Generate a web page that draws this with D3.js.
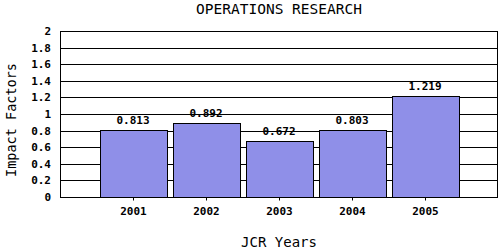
<!DOCTYPE html>
<html>
<head>
<meta charset="utf-8">
<script src="https://cdn.jsdelivr.net/npm/d3@7"></script>
<style>
  body { margin: 0; background: #fff; }
  text { font-family: "DejaVu Sans Mono", monospace; }
</style>
</head>
<body>
<div id="chart"></div>
<script>
var years = ["2001", "2002", "2003", "2004", "2005"];
var impactFactors = [0.813, 0.892, 0.672, 0.803, 1.219];
var yTicks = [0, 0.2, 0.4, 0.6, 0.8, 1, 1.2, 1.4, 1.6, 1.8, 2];
var title = "OPERATIONS RESEARCH";

var width = 500, height = 250;
var margin = { top: 31, right: 2, bottom: 53, left: 60 };
var plotW = width - margin.left - margin.right,
    plotH = height - margin.top - margin.bottom;
var midX = margin.left + plotW / 2;

var svg = d3.select("#chart").append("svg")
    .attr("width", width)
    .attr("height", height);

var g = svg.append("g")
    .attr("transform", "translate(" + margin.left + "," + margin.top + ")");

var x = d3.scalePoint().domain(years).range([0, plotW]).padding(1);
var y = d3.scaleLinear().domain([0, 2]).range([plotH, 0]);
var barW = 67;

// gridlines
g.append("g").selectAll("line")
    .data(yTicks)
    .enter().append("line")
    .attr("x1", 0).attr("x2", plotW)
    .attr("y1", function(d) { return Math.round(y(d)) + 0.5; })
    .attr("y2", function(d) { return Math.round(y(d)) + 0.5; })
    .attr("stroke", "#000");

// bars
g.append("g").selectAll("rect")
    .data(impactFactors)
    .enter().append("rect")
    .attr("x", function(d, i) { return Math.round(x(years[i]) - barW / 2) + 0.5; })
    .attr("y", function(d) { return Math.round(y(d)) + 0.5; })
    .attr("width", barW)
    .attr("height", function(d) { return Math.round(plotH - y(d)); })
    .attr("fill", "#8f8fe8")
    .attr("stroke", "#000");

// value labels
g.append("g").selectAll("text")
    .data(impactFactors)
    .enter().append("text")
    .attr("x", function(d, i) { return x(years[i]); })
    .attr("y", function(d) { return y(d) - 6; })
    .attr("text-anchor", "middle")
    .attr("font-size", "11px")
    .attr("font-weight", "bold")
    .text(function(d) { return d3.format(",.3f")(d); });

// frame
g.append("rect")
    .attr("x", 0.5).attr("y", 0.5)
    .attr("width", plotW - 1).attr("height", plotH)
    .attr("fill", "none").attr("stroke", "#000");

// y axis
var yAxis = g.append("g")
    .call(d3.axisLeft(y).tickValues(yTicks).tickSize(0).tickPadding(9)
        .tickFormat(function(d) { return String(d); }));
yAxis.select(".domain").remove();
yAxis.selectAll("text")
    .attr("font-family", "DejaVu Sans Mono, monospace")
    .attr("font-size", "11px").attr("font-weight", "bold").attr("fill", "#000");

// x axis
var xAxis = g.append("g")
    .attr("transform", "translate(0," + (plotH + 0.5) + ")")
    .call(d3.axisBottom(x).tickSize(3).tickPadding(7));
xAxis.select(".domain").remove();
xAxis.selectAll("line").attr("stroke", "#000");
xAxis.selectAll("text")
    .attr("font-family", "DejaVu Sans Mono, monospace")
    .attr("font-size", "11px").attr("font-weight", "bold").attr("fill", "#000");

// title
svg.append("text")
    .attr("x", midX).attr("y", 14)
    .attr("text-anchor", "middle")
    .attr("font-size", "14.5px")
    .text(title);

// axis titles
svg.append("text")
    .attr("x", midX).attr("y", 247)
    .attr("text-anchor", "middle")
    .attr("font-size", "14px")
    .text("JCR Years");

svg.append("text")
    .attr("transform", "translate(16,120) rotate(-90)")
    .attr("text-anchor", "middle")
    .attr("font-size", "13.5px")
    .text("Impact Factors");
</script>
</body>
</html>
